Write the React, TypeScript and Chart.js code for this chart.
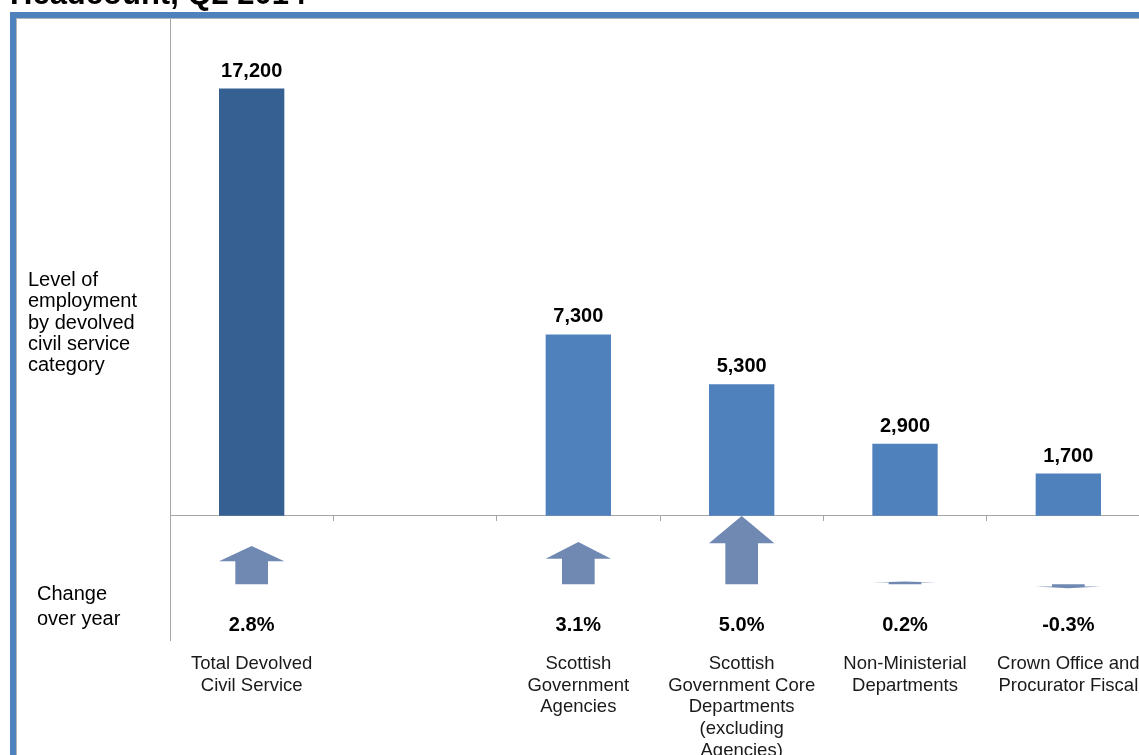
import React, { useEffect, useRef } from 'react';
import { Chart, registerables } from 'chart.js';

Chart.register(...registerables);

// ---- data ----
const titleText = 'Headcount, Q2 2014';
const categoryLines: string[][] = [
  ['Total Devolved', 'Civil Service'],
  [],
  ['Scottish', 'Government', 'Agencies'],
  ['Scottish', 'Government Core', 'Departments', '(excluding', 'Agencies)'],
  ['Non-Ministerial', 'Departments'],
  ['Crown Office and', 'Procurator Fiscal'],
];
const headcount: (number | null)[] = [17200, null, 7300, 5300, 2900, 1700];
const changeOverYear: (number | null)[] = [2.8, null, 3.1, 5.0, 0.2, -0.3];
const levelLabel = ['Level of', 'employment', 'by devolved', 'civil service', 'category'];
const changeLabel = ['Change', 'over year'];

// ---- styles ----
const FONT = "'Liberation Sans', Arial, sans-serif";
const DARK_BLUE = '#376092';
const BLUE = '#4F81BD';
const ARROW = '#7089B3';
const GRID = '#a6a6a6';
const FRAME = '#4F81BD';

const overlay = {
  id: 'overlay',
  beforeDraw(chart: any) {
    const { ctx, width, height } = chart;
    ctx.save();
    ctx.fillStyle = '#ffffff';
    ctx.fillRect(0, 0, width, height);
    ctx.fillStyle = FRAME;
    ctx.fillRect(10, 12, 6, height - 12);
    ctx.fillRect(10, 12, width - 10, 6);
    ctx.fillStyle = '#b4b4b4';
    ctx.fillRect(16, 18, width - 16, 1);
    ctx.fillRect(16, 18, 1, height - 18);
    ctx.restore();
  },
  afterDatasetsDraw(chart: any) {
    const { ctx, chartArea } = chart;
    const xs = chart.scales.x;
    const ys2 = chart.scales.y2;
    const meta = chart.getDatasetMeta(0);
    const bw = meta.data[0].width;
    ctx.save();
    ctx.textAlign = 'center';
    ctx.textBaseline = 'alphabetic';

    // value labels
    ctx.fillStyle = '#000';
    ctx.font = `bold 20px ${FONT}`;
    headcount.forEach((v, i) => {
      if (v == null) return;
      const bar = meta.data[i];
      ctx.fillText(v.toLocaleString('en-US'), bar.x, bar.y - 12);
    });

    // arrows and change labels
    changeOverYear.forEach((c, i) => {
      if (c == null) return;
      const cx = xs.getPixelForValue(i);
      const base = ys2.getPixelForValue(0);
      const tip = ys2.getPixelForValue(c);
      const h = tip - base;
      const headY = tip - h * 0.4;
      const hw = bw / 2;
      const sw = bw / 4;
      ctx.fillStyle = ARROW;
      ctx.beginPath();
      ctx.moveTo(cx - sw, base);
      ctx.lineTo(cx - sw, headY);
      ctx.lineTo(cx - hw, headY);
      ctx.lineTo(cx, tip);
      ctx.lineTo(cx + hw, headY);
      ctx.lineTo(cx + sw, headY);
      ctx.lineTo(cx + sw, base);
      ctx.closePath();
      ctx.fill();
      ctx.fillStyle = '#000';
      ctx.font = `bold 20px ${FONT}`;
      ctx.fillText(c.toFixed(1) + '%', cx, base + 47);
    });

    // category labels
    ctx.fillStyle = '#1a1a1a';
    ctx.font = `18.5px ${FONT}`;
    categoryLines.forEach((lines, i) => {
      const cx = xs.getPixelForValue(i);
      lines.forEach((ln, j) => {
        ctx.fillText(ln, cx, chartArea.bottom + 29 + j * 21.7);
      });
    });

    // row labels
    ctx.textAlign = 'left';
    ctx.fillStyle = '#000';
    ctx.font = `20px ${FONT}`;
    levelLabel.forEach((ln, j) => ctx.fillText(ln, 28, 286 + j * 21.3));
    changeLabel.forEach((ln, j) => ctx.fillText(ln, 37, 600 + j * 25));

    // title (mostly above the visible page)
    ctx.font = `bold 31px ${FONT}`;
    ctx.fillText(titleText, 10, 4);
    ctx.restore();
  },
};

export default function App() {
  const ref = useRef<HTMLCanvasElement | null>(null);
  useEffect(() => {
    if (!ref.current) return;
    const chart = new Chart(ref.current, {
      type: 'bar',
      data: {
        labels: categoryLines.map((l) => l.join(' ')),
        datasets: [
          {
            data: headcount as any,
            backgroundColor: (c: any) => (c.dataIndex === 0 ? DARK_BLUE : BLUE),
            borderWidth: 0,
            barPercentage: 0.4,
            categoryPercentage: 1,
          },
        ],
      },
      options: {
        animation: false,
        responsive: false,
        devicePixelRatio: 1,
        layout: { padding: { left: 170, top: 19, right: 10, bottom: 115 } },
        plugins: { legend: { display: false }, tooltip: { enabled: false }, title: { display: false } },
        scales: {
          x: {
            position: { y: 0 } as any,
            offset: true,
            ticks: { display: false },
            grid: { display: true, drawOnChartArea: false, drawTicks: true, tickLength: 5, offset: true, color: GRID },
            border: { display: true, color: GRID },
          },
          y: {
            min: -5000,
            max: 20000,
            ticks: { display: false },
            grid: { display: false },
            border: { display: true, color: GRID },
            afterFit: (s: any) => {
              s.width = 0;
            },
          },
          y2: {
            display: false,
            min: -4.1,
            max: 41.5,
          },
        },
      },
      plugins: [overlay],
    });
    return () => chart.destroy();
  }, []);
  return (
    <div style={{ position: 'fixed', left: 0, top: 0, width: 1139, height: 755, overflow: 'hidden', background: '#fff' }}>
      <canvas ref={ref} width={1160} height={755} style={{ width: 1160, height: 755, display: 'block' }} />
    </div>
  );
}
